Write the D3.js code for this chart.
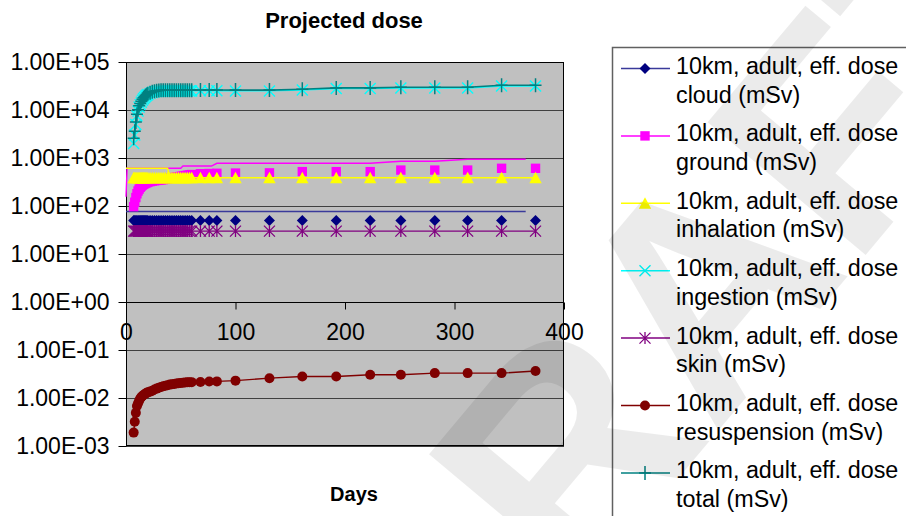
<!DOCTYPE html>
<html><head><meta charset="utf-8">
<script src="https://cdn.jsdelivr.net/npm/d3@7"></script>
<style>
body{margin:0;background:#fff;}
svg text{font-family:"Liberation Sans",Arial,Helvetica,sans-serif;}
</style></head>
<body><svg id="c" width="906" height="516"></svg>
<script>
// ---------- data ----------
const days = [7,8,9,10,11,12,13,14,15,16,17,18,19,20,22,24,26,28,30,32,34,36,38,40,42,44,46,48,50,52,54,56,58,60,68,76,83,100,131,161,192,223,251,282,312,343,374];
const cloud = [50,50,50,50,50,50,50,50,50,50,50,50,50,50,50,50,50,50,50,50,50,50,50,50,50,50,50,50,50,50,50,50,50,50,50,50,50,50,50,50,50,50,50,50,50,50,50];
const ground = [97,120,150,180,205,225,245,260,272,283,292,300,307,313,322,330,336,341,346,350,355,362,370,378,385,393,400,408,415,422,430,438,445,452,470,475,480,485,490,520,520,520,560,560,560,610,610];
const inhalation = [389,389,389,389,389,389,389,389,389,389,389,389,389,389,389,389,389,389,389,389,389,389,389,389,389,389,389,389,389,389,389,389,389,389,389,389,389,389,389,389,389,389,389,389,389,389,389];
const ingestion = [2000,3000,5000,7500,9500,11500,13000,14500,16000,17200,18300,19300,20200,21000,22200,23200,23900,24400,24700,24900,25000,25000,25000,25000,25000,25000,25000,25000,25000,25000,25000,25000,25000,25000,25200,25200,25200,25000,25000,26000,27900,27900,28800,28800,28800,31700,31700];
const skin = [30,30,30,30,30,30,30,30,30,30,30,30,30,30,30,30,30,30,30,30,30,30,30,30,30,30,30,30,30,30,30,30,30,30,30,30,30,30,30,30,30,30,30,30,30,30,30];
const resuspension = [0.0019,0.0032,0.0049,0.0068,0.0078,0.0088,0.0098,0.0105,0.011,0.0115,0.012,0.0124,0.0128,0.0131,0.0136,0.0141,0.015,0.0157,0.0164,0.017,0.0175,0.018,0.0185,0.019,0.0193,0.0196,0.02,0.0203,0.0206,0.0208,0.021,0.0212,0.0213,0.0214,0.0215,0.022,0.0222,0.023,0.0259,0.028,0.028,0.0304,0.0304,0.033,0.033,0.033,0.0365];
const total = [2570,3590,5620,8150,10170,12190,13710,15230,16740,17950,19060,20070,20980,21780,22990,24000,24700,25210,25520,25720,25820,25830,25840,25850,25850,25860,25870,25880,25880,25890,25900,25910,25910,25920,26140,26140,26150,25950,25960,26990,28890,28890,29830,29830,29830,32780,32780];
// traced lines that do not follow their markers
const cloudLineDays = [0,365];
const cloudLineValues = [77,77];
const groundLineDays = [0,1,50,52,78,83,223,251,282,312,365];
const groundLineValues = [156,612,612,680,680,776,776,855,855,940,940];
const inhalationLineDays = [0,38,40,374];
const inhalationLineValues = [612,612,389,389];

const yTicks = [1e5,1e4,1e3,1e2,1e1,1e0,1e-1,1e-2,1e-3];
const yTickLabels = ["1.00E+05","1.00E+04","1.00E+03","1.00E+02","1.00E+01","1.00E+00","1.00E-01","1.00E-02","1.00E-03"];
const xTicks = [0,100,200,300,400];
const seriesNames = ["cloud","ground","inhalation","ingestion","skin","resuspension","total"];
const legendPrefix = "10km, adult, eff. dose";
const titleText = "Projected dose";
const xTitle = "Days";
const watermarkText = "DRAFT";

// ---------- styles ----------
const styles = {
  cloud:{color:"#000080", line:"#3a3a9a", marker:"diamond"},
  ground:{color:"#FF00FF", line:"#FF00FF", marker:"square"},
  inhalation:{color:"#FFFF00", line:"#FFFF00", marker:"triangle"},
  ingestion:{color:"#00FFFF", line:"#00FFFF", marker:"x"},
  skin:{color:"#800080", line:"#800080", marker:"star"},
  resuspension:{color:"#800000", line:"#800000", marker:"circle"},
  total:{color:"#008080", line:"#008080", marker:"plus"}
};
const values = {cloud, ground, inhalation, ingestion, skin, resuspension, total};
const lines = {
  cloud: cloudLineDays.map((d,i)=>[d,cloudLineValues[i]]),
  ground: groundLineDays.map((d,i)=>[d,groundLineValues[i]]),
  inhalation: inhalationLineDays.map((d,i)=>[d,inhalationLineValues[i]])
};

const svg = d3.select("#c");
const L=126, R=564, T=62, B=446;
const x = d3.scaleLinear().domain([0,400]).range([L,R]);
const y = d3.scaleLog().domain([1e-3,1e5]).range([B,T]);

// plot area
svg.append("rect").attr("x",L).attr("y",T).attr("width",R-L).attr("height",B-T)
  .attr("fill","#C0C0C0");
svg.append("g").selectAll("line").data(yTicks).join("line")
  .attr("x1",L).attr("x2",R).attr("y1",d=>Math.round(y(d))+0.5).attr("y2",d=>Math.round(y(d))+0.5)
  .attr("stroke","#404040").attr("stroke-width",1.2);
svg.append("rect").attr("x",L+0.5).attr("y",T+0.5).attr("width",R-L-1).attr("height",B-T-1)
  .attr("fill","none").attr("stroke","#000").attr("stroke-width",1);

// y axis
const yAxis = d3.axisLeft(y).tickValues(yTicks).tickFormat((d,i)=>yTickLabels[i]).tickSize(8).tickPadding(9);
const gy = svg.append("g").attr("transform",`translate(${L+0.5},0)`).call(yAxis);
gy.select(".domain").remove();
gy.selectAll("text").attr("font-size",23).attr("fill","#000").attr("font-family","Liberation Sans, Arial, sans-serif");
gy.selectAll("line").attr("stroke","#000");

// x axis crossing at y=1
const xAxis = d3.axisBottom(x).tickValues(xTicks).tickSize(7).tickPadding(14);
const gx = svg.append("g").attr("transform",`translate(0,${Math.round(y(1))+0.5})`).call(xAxis);
gx.select(".domain").attr("stroke","#000").attr("d",`M${L},0H${R}`);
gx.selectAll("line").attr("stroke","#000");
gx.selectAll("text").attr("font-size",23).attr("fill","#000").attr("font-family","Liberation Sans, Arial, sans-serif");

// markers
function drawMarker(g, type, col){
  if(type==="diamond") g.append("path").attr("d","M0,-5.5L5.5,0L0,5.5L-5.5,0Z").attr("fill",col);
  else if(type==="square") g.append("rect").attr("x",-4.7).attr("y",-4.7).attr("width",9.4).attr("height",9.4).attr("fill",col);
  else if(type==="triangle") g.append("path").attr("d","M0,-6L6.2,5.5L-6.2,5.5Z").attr("fill",col);
  else if(type==="x") g.append("path").attr("d","M-5.5,-5.5L5.5,5.5M-5.5,5.5L5.5,-5.5").attr("stroke",col).attr("stroke-width",1.4).attr("fill","none");
  else if(type==="star") g.append("path").attr("d","M-5.5,-5.5L5.5,5.5M-5.5,5.5L5.5,-5.5M0,-6L0,6").attr("stroke",col).attr("stroke-width",1.3).attr("fill","none");
  else if(type==="circle") g.append("circle").attr("r",5).attr("fill",col);
  else if(type==="plus") g.append("path").attr("d","M-6,0L6,0M0,-7L0,7").attr("stroke",col).attr("stroke-width",1.5).attr("fill","none");
}

const lineGen = d3.line().x(d=>x(d[0])).y(d=>y(d[1]));
const plot = svg.append("g");
seriesNames.forEach(name=>{
  const st = styles[name];
  const pts = lines[name] || days.map((d,i)=>[d,values[name][i]]);
  plot.append("path").datum(pts).attr("d",lineGen).attr("fill","none")
    .attr("stroke",st.line).attr("stroke-width", name==="total"?1.6:1.4);
  const mg = plot.append("g");
  days.forEach((d,i)=>{
    const g = mg.append("g").attr("transform",`translate(${x(d)},${y(values[name][i])})`);
    drawMarker(g, st.marker, st.color);
  });
});

// titles
svg.append("text").attr("x",344).attr("y",28).attr("text-anchor","middle")
  .attr("font-size",22).attr("font-weight","bold").text(titleText);
svg.append("text").attr("x",354).attr("y",501).attr("text-anchor","middle")
  .attr("font-size",20).attr("font-weight","bold").text(xTitle);

// legend
const lg = svg.append("g");
lg.append("rect").attr("x",612.5).attr("y",47.5).attr("width",400).attr("height",520)
  .attr("fill","#fff").attr("stroke","#606060").attr("stroke-width",1.5);
seriesNames.forEach((name,i)=>{
  const base = 74 + i*67.4;
  const st = styles[name];
  const my = base-5.5;
  lg.append("line").attr("x1",621).attr("x2",670).attr("y1",my).attr("y2",my)
    .attr("stroke",st.line).attr("stroke-width",1.5);
  const g = lg.append("g").attr("transform",`translate(645,${my})`);
  drawMarker(g, st.marker, st.color);
  const t = lg.append("text").attr("x",676).attr("y",base).attr("font-size",23.3).attr("fill","#000");
  t.append("tspan").attr("x",676).attr("dy",0).text(legendPrefix);
  t.append("tspan").attr("x",676).attr("dy",28.5).text(name+" (mSv)");
});

// watermark (partly outside the picture, as in the reference)
svg.append("text").attr("transform","translate(682,312) rotate(-50)")
  .attr("text-anchor","middle").attr("dominant-baseline","central")
  .attr("font-size",300).attr("font-weight","bold").attr("fill","#000").attr("fill-opacity",0.08)
  .text(watermarkText);
</script></body></html>
